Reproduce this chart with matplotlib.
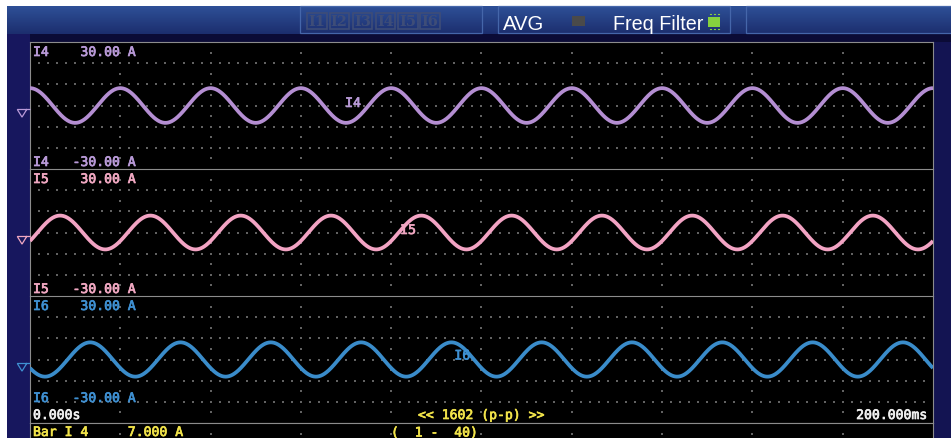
import numpy as np
import matplotlib
matplotlib.use("Agg")
import matplotlib.pyplot as plt
import matplotlib.patheffects as pe
from matplotlib.patches import Rectangle
from matplotlib.lines import Line2D

W, H = 951, 439

# ---- channel data -------------------------------------------------------
channels = ["I4", "I5", "I6"]
amplitude_a = [8.2, 8.0, 8.1]          # peak current of each trace
frequency_hz = [50.0, 50.0, 50.0]
phase_deg = [0.0, -120.0, -240.0]
range_a = [30.0, 30.0, 30.0]           # +/- full scale of each panel
span_ms = 200.0
trace_colors = ["#b48ed2", "#f2a3c3", "#3a8cca"]
label_colors = ["#b99ad8", "#f1a8c2", "#3f90d2"]
# where the channel name sits on its trace (ms, A)
trace_label_pos = [(69.8, -0.7), (82.0, -0.7), (94.0, 0.0)]

time_start_label = "0.000s"
time_end_label = "200.000ms"
points_label = "<< 1602 (p-p) >>"
bar_label = "Bar I 4     7.000 A"
order_label = "(  1 -  40)"
header_buttons = ["I1", "I2", "I3", "I4", "I5", "I6"]

# ---- layout (pixels) -----------------------------------------------------
PLOT_L, PLOT_R = 30, 933
panel_px = [(43, 170), (170, 297), (297, 424)]
BAR_ROW = (424, 439)

GRID = "#626262"
BORDER = "#8c8c8c"
WHITE = "#f0f0f0"
YELLOW = "#f2e44a"
MONO = "DejaVu Sans Mono"
MONO_SIZE = 9.45
NARROW = ["Liberation Sans Narrow", "Liberation Sans", "DejaVu Sans"]

fig = plt.figure(figsize=(W / 100, H / 100), dpi=100, facecolor="white")


def px_axes(zorder):
    ax = fig.add_axes([0, 0, 1, 1], zorder=zorder)
    ax.set_xlim(0, W)
    ax.set_ylim(H, 0)
    ax.axis("off")
    ax.patch.set_alpha(0)
    return ax


def rect_from_px(x0, x1, y0, y1):
    return [x0 / W, 1 - y1 / H, (x1 - x0) / W, (y1 - y0) / H]


# ---- background frame ----------------------------------------------------
bg = px_axes(0)
grad = np.linspace(0, 1, 64)[:, None]
top_c = np.array([0x2e, 0x50, 0x97]) / 255
bot_c = np.array([0x1c, 0x2e, 0x6e]) / 255
img = top_c[None, None, :] * (1 - grad[:, :, None]) + bot_c[None, None, :] * grad[:, :, None]
bg.imshow(img, extent=[7, W, 35, 7], aspect="auto", interpolation="bilinear", zorder=0)
bg.add_patch(Rectangle((7, 35), W - 7, 8, facecolor="#0b0b36", edgecolor="none", zorder=1))
bg.add_patch(Rectangle((7, 35), PLOT_L - 7, H - 35, facecolor="#17175e", edgecolor="none", zorder=1))
bg.add_patch(Rectangle((PLOT_R, 43), W - PLOT_R, H - 43, facecolor="#131452", edgecolor="none", zorder=1))

# header boxes
box_edge = "#4566aa"
for x0, x1 in [(300, 482), (498, 730), (746, 960)]:
    bg.add_patch(Rectangle((x0, 7), x1 - x0, 27, facecolor="none", edgecolor=box_edge, lw=0.9, zorder=2))

# greyed-out channel buttons
btn_x = [307, 329.5, 352.5, 375.5, 398, 420]
for bx, name in zip(btn_x, header_buttons):
    bg.add_patch(Rectangle((bx, 14), 19.5, 16, facecolor="none", edgecolor="#3e4d78", lw=1.2, zorder=3))
    bg.text(bx + 9.8, 22.5, name, color="#3e4d78", fontsize=10.5, fontweight="bold",
            family="DejaVu Serif", ha="center", va="center", zorder=4)

bg.text(503, 30, "AVG", color="white", fontsize=14.6, family=NARROW, ha="left", va="baseline", zorder=4)
bg.add_patch(Rectangle((572, 17), 13, 10, facecolor="#4a4a4a", edgecolor="none", zorder=4))
bg.text(613, 30, "Freq Filter", color="white", fontsize=14.2, family=NARROW, ha="left", va="baseline", zorder=4)
bg.add_patch(Rectangle((708, 17.5), 12, 10.5, facecolor="#86d13e", edgecolor="none", zorder=4))
for xx in (710, 714, 718):
    bg.add_line(Line2D([xx, xx + 1.2], [15.3, 15.3], color="#86d13e", lw=0.8, zorder=4))
    bg.add_line(Line2D([xx, xx + 1.2], [30.2, 30.2], color="#86d13e", lw=0.8, zorder=4))

# ---- scope panels ----------------------------------------------------------
t = np.linspace(0, span_ms, 3000)
panels = []
for i, (y0, y1) in enumerate(panel_px):
    ax = fig.add_axes(rect_from_px(PLOT_L, PLOT_R, y0, y1), zorder=2)
    ax.set_facecolor("black")
    ax.set_xlim(0, span_ms)
    ax.set_ylim(-range_a[i], range_a[i])
    ax.set_xticks([])
    ax.set_yticks([])
    for s in ax.spines.values():
        s.set_color(BORDER)
        s.set_linewidth(0.8)
    ax.spines["bottom"].set_visible(i == len(panel_px) - 1)

    # dotted graticule: fine dots along each horizontal line, sparser along verticals
    step_a = range_a[i] / 3
    hx = np.arange(2, span_ms, 2)
    hy = np.arange(-range_a[i] + step_a, range_a[i], step_a)
    gx, gy = np.meshgrid(hx, hy)
    ax.scatter(gx.ravel(), gy.ravel(), s=1.0, marker="s", color=GRID, linewidths=0, zorder=1)
    vx = np.arange(20, span_ms, 20)
    vy = np.arange(-range_a[i] + step_a / 2, range_a[i], step_a / 2)
    gx, gy = np.meshgrid(vx, vy)
    ax.scatter(gx.ravel(), gy.ravel(), s=1.0, marker="s", color=GRID, linewidths=0, zorder=1)

    # waveform
    y = amplitude_a[i] * np.cos(2 * np.pi * frequency_hz[i] * t / 1000 + np.deg2rad(phase_deg[i]))
    ax.plot(t, y, color=trace_colors[i], lw=2.7, solid_capstyle="butt", zorder=3)
    lx, ly = trace_label_pos[i]
    ax.text(lx, ly, channels[i], color=label_colors[i], family=MONO, fontsize=MONO_SIZE,
            ha="left", va="baseline", zorder=4,
            path_effects=[pe.withStroke(linewidth=0.5, foreground=label_colors[i])])
    panels.append(ax)

# bottom status row
bar = fig.add_axes(rect_from_px(PLOT_L, PLOT_R, BAR_ROW[0], BAR_ROW[1] + 10), zorder=2)
bar.set_facecolor("black")
bar.set_xlim(0, span_ms)
bar.set_ylim(0, 1)
bar.set_xticks([])
bar.set_yticks([])
for name, s in bar.spines.items():
    s.set_color(BORDER)
    s.set_linewidth(0.8)
    s.set_visible(name in ("top", "left", "right"))
bar.scatter(np.arange(20, span_ms, 20), np.full(9, 0.56), s=1.0, marker="s", color=GRID,
            linewidths=0, zorder=1)

# ---- overlay text --------------------------------------------------------
ov = px_axes(5)


def mono(x, y, s, color, ha="left"):
    ov.text(x, y, s, color=color, family=MONO, fontsize=MONO_SIZE, ha=ha, va="baseline",
            path_effects=[pe.withStroke(linewidth=0.5, foreground=color)])


for i, (y0, y1) in enumerate(panel_px):
    c = label_colors[i]
    mono(33, y0 + 14, f"{channels[i]}    {range_a[i]:.2f} A", c)
    bottom_base = y1 - 3 if i < 2 else y1 - 21
    mono(33, bottom_base, f"{channels[i]}   {-range_a[i]:.2f} A", c)

    # ground-level marker at the left edge
    mid = (y0 + y1) / 2 + 4
    ov.add_line(Line2D([PLOT_L, 17.3, 22, 26.7], [mid, mid, mid + 7.6, mid],
                       color=c, lw=0.9, solid_joinstyle="miter"))

mono(33, 420, time_start_label, WHITE)
mono(418, 420, points_label, YELLOW)
mono(927, 420, time_end_label, WHITE, ha="right")
mono(33, 437, bar_label, YELLOW)
mono(391, 437.5, order_label, YELLOW)

fig.savefig("out.png", dpi=100, facecolor=fig.get_facecolor())
